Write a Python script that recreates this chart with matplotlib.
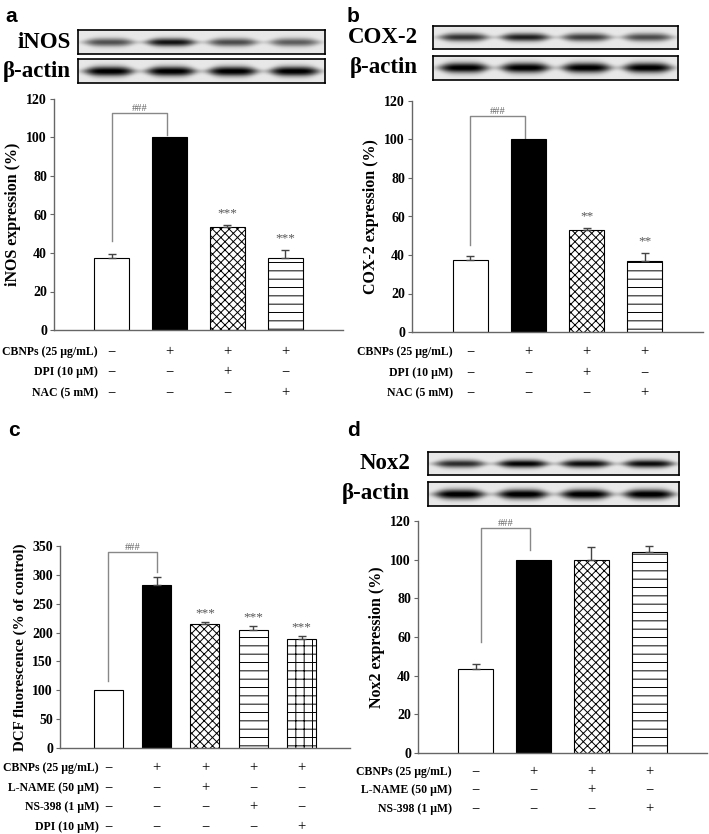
"""Western blot / bar chart figure (panels a-d)."""
import numpy as np
import matplotlib
matplotlib.use('Agg')
import matplotlib.pyplot as plt
from matplotlib.transforms import blended_transform_factory

W, H = 709, 834
SERIF = ['Liberation Serif', 'DejaVu Serif']
SANS = ['Liberation Sans', 'DejaVu Sans']

plt.rcParams['font.family'] = SERIF
plt.rcParams['hatch.linewidth'] = 0.7

# ---- data ----------------------------------------------------------------
a_values = [37.5, 100, 53.5, 37.5]
a_errors = [2, 0, 1, 4]
a_stars = ['', '', '***', '***']
a_treat_labels = ['CBNPs (25 µg/mL)', 'DPI (10 µM)', 'NAC (5 mM)']
a_treat = [['−', '+', '+', '+'],
           ['−', '−', '+', '−'],
           ['−', '−', '−', '+']]
a_blot_names = ['iNOS', 'β-actin']
a_blot_bands = [[0.6, 0.85, 0.62, 0.55], [0.95, 0.95, 0.95, 0.95]]

b_values = [37.5, 100, 53, 37]
b_errors = [2, 0, 1, 4]
b_stars = ['', '', '**', '**']
b_treat_labels = a_treat_labels
b_treat = a_treat
b_blot_names = ['COX-2', 'β-actin']
b_blot_bands = [[0.72, 0.8, 0.68, 0.62], [0.95, 0.95, 0.95, 0.95]]

c_values = [100, 282, 214, 204, 189.5]
c_errors = [0, 15, 4, 7, 4]
c_stars = ['', '', '***', '***', '***']
c_treat_labels = ['CBNPs (25 µg/mL)', 'L-NAME (50 µM)', 'NS-398 (1 µM)',
                  'DPI (10 µM)']
c_treat = [['−', '+', '+', '+', '+'],
           ['−', '−', '+', '−', '−'],
           ['−', '−', '−', '+', '−'],
           ['−', '−', '−', '−', '+']]

d_values = [43.5, 100, 100, 104]
d_errors = [2.5, 0, 6.5, 3]
d_stars = ['', '', '', '']
d_treat_labels = ['CBNPs (25 µg/mL)', 'L-NAME (50 µM)', 'NS-398 (1 µM)']
d_treat = [['−', '+', '+', '+'],
           ['−', '−', '+', '−'],
           ['−', '−', '−', '+']]
d_blot_names = ['Nox2', 'β-actin']
d_blot_bands = [[0.75, 0.92, 0.88, 0.88], [0.97, 0.97, 0.97, 0.97]]

FILLS = ['white', 'black', 'white', 'white', 'white']
HATCHES = [None, None, 'xxxx', '--', '++']


def px_rect(x0, y0, x1, y1):
    """Pixel box (top-left origin) -> figure fraction rect."""
    return [x0 / W, 1 - y1 / H, (x1 - x0) / W, (y1 - y0) / H]


def draw_blot(ax, bands, thick):
    h, w = 40, 400
    yy, xx = np.mgrid[0:h, 0:w]
    img = np.full((h, w), 0.91)
    n = len(bands)
    for i, dark in enumerate(bands):
        cx = (i + 0.5) / n * w
        half = 0.4 * w / n
        shape_x = np.exp(-((xx - cx) / half) ** 4)
        sig = thick * h * (0.45 + 0.55 * shape_x)
        shape_y = np.exp(-((yy - h / 2) / sig) ** 2)
        img -= dark * shape_x * shape_y
    ax.imshow(np.clip(img, 0, 1), cmap='gray', vmin=0, vmax=1, aspect='auto',
              interpolation='bilinear')
    ax.set_xticks([])
    ax.set_yticks([])
    for sp in ax.spines.values():
        sp.set_linewidth(1.2)


def draw_blots(fig, names, bands, box_x, rows, label_x):
    for name, band, (y0, y1) in zip(names, bands, rows):
        ax = fig.add_axes(px_rect(box_x[0], y0, box_x[1], y1))
        draw_blot(ax, band, 0.2 if name == 'β-actin' else 0.17)
        fig.text(label_x / W, 1 - (y0 + y1) / 2 / H, name, ha='right',
                 va='center', fontsize=16.5, fontweight='bold')


def draw_bars(ax, values, errors, stars, ymax, step, ylabel, star_off,
              label_size=11.5):
    n = len(values)
    x = np.arange(n)
    for xi, v in zip(x, values):
        ax.bar(xi, v, width=0.6, color=FILLS[xi], edgecolor='black',
               hatch=HATCHES[xi], linewidth=0.8, zorder=2)
    for xi, v, e in zip(x, values, errors):
        if e > 0:
            ax.errorbar(xi, v, yerr=[[0], [e]], fmt='none', ecolor='#444',
                        elinewidth=1, capsize=3, capthick=1, zorder=3)
    for xi, v, e, s in zip(x, values, errors, stars):
        if s:
            ax.annotate(s, (xi, v + e), xytext=(0, star_off),
                        textcoords='offset points', ha='center', va='center',
                        fontsize=9.5, color='#555')
    ax.set_xlim(-1, n)
    ax.set_ylim(0, ymax)
    ax.set_yticks(np.arange(0, ymax + 1, step))
    ax.set_xticks([])
    for side in ['top', 'right']:
        ax.spines[side].set_visible(False)
    for side in ['left', 'bottom']:
        ax.spines[side].set_color('#666')
        ax.spines[side].set_linewidth(1)
    ax.tick_params(axis='y', direction='out', length=3, color='#666',
                   labelsize=10, pad=2)
    for lab in ax.get_yticklabels():
        lab.set_fontweight('bold')
    ax.set_ylabel(ylabel, fontsize=label_size, fontweight='bold', labelpad=4)


def draw_bracket(ax, xl, xr, yl, ytop, yr):
    ax.plot([xl, xl, xr, xr], [yl, ytop, ytop, yr], color='#888', lw=1,
            zorder=1, clip_on=False)
    ax.text((xl + xr) / 2, ytop, '###', ha='center', va='bottom',
            fontsize=7.5, color='#666', clip_on=False)


def draw_treatments(fig, ax, labels, signs, row_y, label_x):
    trans = blended_transform_factory(ax.transData, fig.transFigure)
    for lab, row, y in zip(labels, signs, row_y):
        fig.text(label_x / W, 1 - y / H, lab, ha='right', va='center',
                 fontsize=8.5, fontweight='bold')
        for xi, s in enumerate(row):
            ax.text(xi, 1 - y / H, s, transform=trans, ha='center',
                    va='center', fontsize=10.5, clip_on=False)


fig = plt.figure(figsize=(W / 100, H / 100), dpi=100)

# ---- panel a -------------------------------------------------------------
ax_a = fig.add_axes(px_rect(54, 99, 343, 330))
draw_bars(ax_a, a_values, a_errors, a_stars, 120, 20, 'iNOS expression (%)', 8.5)
draw_bracket(ax_a, 0, 0.95, 46, 112.5, 101.3)
draw_treatments(fig, ax_a, a_treat_labels, a_treat, [352, 372, 393], 98)
draw_blots(fig, a_blot_names, a_blot_bands, (78, 325), [(30, 54), (59, 83)], 71)
fig.text(5 / W, 1 - 17 / H, 'a', fontsize=15, fontweight='bold',
         family=SANS, va='center')

# ---- panel b -------------------------------------------------------------
ax_b = fig.add_axes(px_rect(412, 101, 703, 332))
draw_bars(ax_b, b_values, b_errors, b_stars, 120, 20, 'COX-2 expression (%)', 8.5)
draw_bracket(ax_b, 0, 0.94, 45, 112, 101)
draw_treatments(fig, ax_b, b_treat_labels, b_treat, [352, 373, 393], 453)
draw_blots(fig, b_blot_names, b_blot_bands, (433, 678), [(26, 49), (56, 80)], 418)
fig.text(347 / W, 1 - 17 / H, 'b', fontsize=15, fontweight='bold',
         family=SANS, va='center')

# ---- panel c -------------------------------------------------------------
ax_c = fig.add_axes(px_rect(60, 546, 350, 748))
draw_bars(ax_c, c_values, c_errors, c_stars, 350, 50,
          'DCF fluorescence (% of control)', 6.5, label_size=10.8)
draw_bracket(ax_c, 0, 1, 116, 339, 305)
draw_treatments(fig, ax_c, c_treat_labels, c_treat, [768, 788, 807, 827], 99)
fig.text(8 / W, 1 - 430 / H, 'c', fontsize=15, fontweight='bold',
         family=SANS, va='center')

# ---- panel d -------------------------------------------------------------
ax_d = fig.add_axes(px_rect(418, 521, 707, 753))
draw_bars(ax_d, d_values, d_errors, d_stars, 120, 20, 'Nox2 expression (%)', 8.5)
draw_bracket(ax_d, 0.09, 0.94, 57.4, 116.5, 104.8)
draw_treatments(fig, ax_d, d_treat_labels, d_treat, [772, 790, 809], 452)
draw_blots(fig, d_blot_names, d_blot_bands, (428, 679),
           [(452, 475), (482, 506)], 410)
fig.text(347 / W, 1 - 430 / H, 'd', fontsize=15, fontweight='bold',
         family=SANS, va='center')

fig.savefig('out.png', dpi=100)
